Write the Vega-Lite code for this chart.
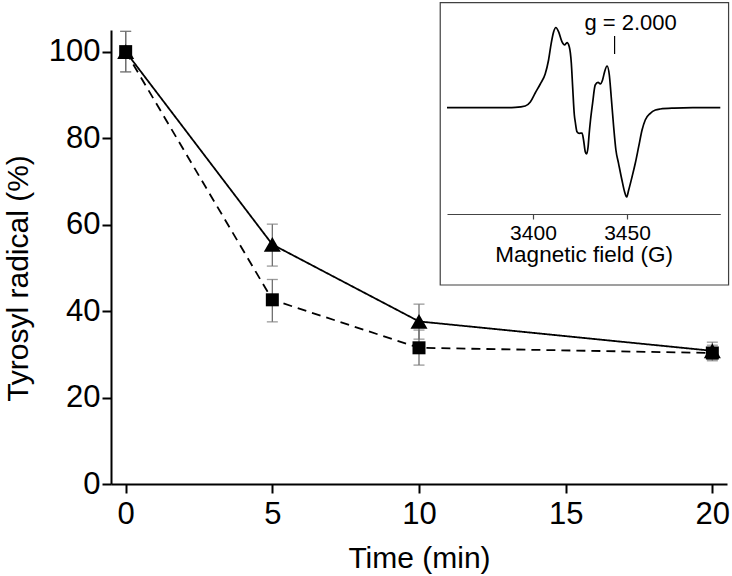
{
  "$schema": "https://vega.github.io/schema/vega-lite/v6.json",
  "width": 616,
  "height": 454,
  "autosize": {"type": "none"},
  "padding": {"left": 111, "top": 30, "right": 5, "bottom": 92},
  "background": "white",
  "config": {
    "view": {"stroke": null},
    "font": "Liberation Sans",
    "axis": {"grid": false, "labelColor": "black", "titleColor": "black", "titleFontWeight": "normal"}
  },
  "datasets": {
    "kinetics": [
      {"s": "tri", "t": 0, "v": 100, "lo": 95.3, "hi": 104.7},
      {"s": "tri", "t": 5, "v": 55.4, "lo": 50.4, "hi": 60.1},
      {"s": "tri", "t": 10, "v": 37.6, "lo": 33.5, "hi": 41.6},
      {"s": "tri", "t": 20, "v": 30.8, "lo": 28.8, "hi": 32.8},
      {"s": "sq", "t": 0, "v": 100, "lo": 95.3, "hi": 104.7},
      {"s": "sq", "t": 5, "v": 42.6, "lo": 37.5, "hi": 47.3},
      {"s": "sq", "t": 10, "v": 31.5, "lo": 27.5, "hi": 35.6},
      {"s": "sq", "t": 20, "v": 30.3, "lo": 28.5, "hi": 32.1}
    ],
    "epr": [
      {"F": 3354.3, "A": 0}, {"F": 3370, "A": 0}, {"F": 3385, "A": 0}, {"F": 3390.6, "A": 0.3},
      {"F": 3395.9, "A": 1.7}, {"F": 3398.6, "A": 5.7}, {"F": 3401.2, "A": 14.7}, {"F": 3403.9, "A": 23.7},
      {"F": 3406.5, "A": 33.7}, {"F": 3408.3, "A": 47.7}, {"F": 3409.7, "A": 64.4}, {"F": 3411.0, "A": 76},
      {"F": 3412.2, "A": 80.2}, {"F": 3413.6, "A": 76}, {"F": 3415.4, "A": 66}, {"F": 3416.8, "A": 62.7},
      {"F": 3418.1, "A": 65}, {"F": 3419.3, "A": 61}, {"F": 3420.4, "A": 44.4}, {"F": 3421.1, "A": 21},
      {"F": 3422.0, "A": -7.3}, {"F": 3422.5, "A": -14.3}, {"F": 3423.4, "A": -24}, {"F": 3424.6, "A": -25.6},
      {"F": 3426.1, "A": -25.3}, {"F": 3426.9, "A": -32.3}, {"F": 3427.8, "A": -44}, {"F": 3428.5, "A": -46.3},
      {"F": 3429.3, "A": -39.3}, {"F": 3429.9, "A": -25.6}, {"F": 3430.6, "A": -12.3}, {"F": 3431.7, "A": 4.4},
      {"F": 3433.1, "A": 22.7}, {"F": 3434.6, "A": 25.4}, {"F": 3435.8, "A": 23.7}, {"F": 3437.0, "A": 27.7},
      {"F": 3438.1, "A": 36}, {"F": 3439.4, "A": 41.7}, {"F": 3440.6, "A": 32.7}, {"F": 3441.6, "A": 11},
      {"F": 3442.9, "A": -19}, {"F": 3444.1, "A": -42.3}, {"F": 3445.5, "A": -55.6}, {"F": 3447.3, "A": -72.3},
      {"F": 3448.7, "A": -84}, {"F": 3449.8, "A": -89.3}, {"F": 3450.9, "A": -82.3}, {"F": 3452.7, "A": -69},
      {"F": 3454.4, "A": -55.6}, {"F": 3456.2, "A": -39}, {"F": 3458.0, "A": -22.3}, {"F": 3459.7, "A": -12.3},
      {"F": 3462.4, "A": -5.6}, {"F": 3465.1, "A": -2.3}, {"F": 3467.7, "A": -1.3}, {"F": 3475, "A": -0.4},
      {"F": 3485, "A": 0}, {"F": 3499.6, "A": 0}
    ],
    "frame": [{"x1": 3350.7, "x2": 3504.0, "y1": -177.3, "y2": 105}],
    "gmark": [{"F": 3443.4, "A1": 53.7, "A2": 71.7, "FT": 3451.9, "AT": 84.4, "label": "g = 2.000"}]
  },
  "layer": [
    {
      "data": {"name": "kinetics"},
      "encoding": {
        "x": {
          "field": "t", "type": "quantitative", "title": "Time (min)",
          "scale": {"domain": [-0.5, 20.5], "nice": false, "zero": false},
          "axis": {
            "values": [0, 5, 10, 15, 20], "tickSize": 9, "tickWidth": 2, "tickColor": "black",
            "domainColor": "black", "domainWidth": 2, "labelFontSize": 31, "labelPadding": 6,
            "titleFontSize": 30, "titleBaseline": "alphabetic", "titleY": 83
          }
        }
      },
      "layer": [
        {
          "mark": {"type": "line", "color": "black", "strokeWidth": 1.8},
          "encoding": {
            "y": {
              "field": "v", "type": "quantitative", "title": "Tyrosyl radical (%)",
              "scale": {"domain": [0, 105], "nice": false},
              "axis": {
                "values": [0, 20, 40, 60, 80, 100], "tickSize": 9, "tickWidth": 2, "tickColor": "black",
                "domainColor": "black", "domainWidth": 2, "labelFontSize": 31, "labelPadding": 2,
                "titleFontSize": 30, "titleBaseline": "alphabetic", "titleX": -84, "titleY": 248
              }
            },
            "detail": {"field": "s"},
            "strokeDash": {"field": "s", "type": "nominal", "scale": {"domain": ["tri", "sq"], "range": [[1, 0], [9, 6]]}, "legend": null}
          }
        },
        {
          "mark": {"type": "rule", "color": "#707070", "strokeWidth": 1.3},
          "encoding": {"y": {"field": "lo", "type": "quantitative"}, "y2": {"field": "hi"}}
        },
        {
          "mark": {"type": "tick", "orient": "horizontal", "color": "#707070", "size": 11, "thickness": 1.3},
          "encoding": {"y": {"field": "lo", "type": "quantitative"}}
        },
        {
          "mark": {"type": "tick", "orient": "horizontal", "color": "#707070", "size": 11, "thickness": 1.3},
          "encoding": {"y": {"field": "hi", "type": "quantitative"}}
        },
        {
          "transform": [{"filter": "datum.s === 'tri'"}],
          "mark": {"type": "point", "shape": "triangle-up", "filled": true, "color": "black", "opacity": 1, "size": 289},
          "encoding": {"y": {"field": "v", "type": "quantitative"}}
        },
        {
          "transform": [{"filter": "datum.s === 'sq'"}],
          "mark": {"type": "point", "shape": "square", "filled": true, "color": "black", "opacity": 1, "size": 169},
          "encoding": {"y": {"field": "v", "type": "quantitative"}}
        }
      ]
    },
    {
      "layer": [
        {
          "data": {"name": "frame"},
          "mark": {"type": "rect", "filled": false, "stroke": "#404040", "strokeWidth": 1.2},
          "encoding": {
            "x": {"field": "x1", "type": "quantitative", "title": "Magnetic field (G)", "scale": {"domain": [3354.3, 3499.6], "range": [336, 609.3], "nice": false, "zero": false}},
            "x2": {"field": "x2"},
            "y": {"field": "y1", "type": "quantitative", "axis": null, "scale": {"domain": [-100, 100], "range": [177.7, -22.3], "nice": false, "zero": false}},
            "y2": {"field": "y2"}
          }
        },
        {
          "data": {"name": "epr"},
          "mark": {"type": "line", "color": "black", "strokeWidth": 1.7, "interpolate": "monotone"},
          "encoding": {
            "x": {
              "field": "F", "type": "quantitative", "title": "Magnetic field (G)",
              "scale": {"domain": [3354.3, 3499.6], "range": [336, 609.3], "nice": false, "zero": false},
              "axis": {
                "orient": "bottom", "offset": -270, "zindex": 1, "values": [3400, 3450], "format": "d",
                "tickSize": 5, "tickWidth": 1.2, "tickColor": "#444", "domainColor": "#444", "domainWidth": 1.2,
                "labelFontSize": 21, "labelPadding": 3, "titleFontSize": 22.5, "titleBaseline": "alphabetic", "titleY": 47
              }
            },
            "y": {"field": "A", "type": "quantitative", "axis": null, "scale": {"domain": [-100, 100], "range": [177.7, -22.3], "nice": false, "zero": false}}
          }
        },
        {
          "data": {"name": "gmark"},
          "mark": {"type": "rule", "color": "black", "strokeWidth": 1.2},
          "encoding": {
            "x": {"field": "F", "type": "quantitative", "title": "Magnetic field (G)"},
            "y": {"field": "A1", "type": "quantitative"},
            "y2": {"field": "A2"}
          }
        },
        {
          "data": {"name": "gmark"},
          "mark": {"type": "text", "fontSize": 22, "align": "center", "baseline": "middle", "color": "black"},
          "encoding": {
            "x": {"field": "FT", "type": "quantitative", "title": "Magnetic field (G)"},
            "y": {"field": "AT", "type": "quantitative"},
            "text": {"field": "label"}
          }
        }
      ]
    }
  ],
  "resolve": {"scale": {"x": "independent", "y": "independent"}, "axis": {"x": "independent", "y": "independent"}}
}
